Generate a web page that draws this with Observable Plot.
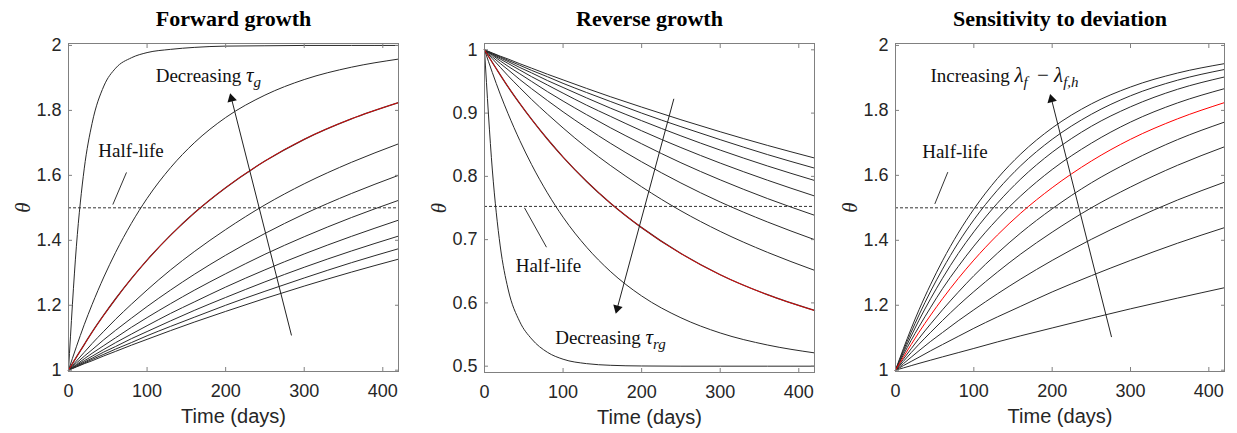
<!DOCTYPE html>
<html><head><meta charset="utf-8">
<script src="https://cdn.jsdelivr.net/npm/d3@7"></script>
<script src="https://cdn.jsdelivr.net/npm/@observablehq/plot@0.6"></script>
<style>
html,body{margin:0;padding:0;background:#fff;}
#chart{position:relative;width:1237px;height:433px;overflow:hidden;background:#fff;}
#chart svg{position:absolute;top:0;}
</style></head><body><div id="chart"></div>
<script>
// ---- data ----
const days = [0,10,20,30,45,60,80,100,130,160,200,250,300,360,420];

const xTicks = [0,100,200,300,400];
const yTicksGrowth = [1,1.2,1.4,1.6,1.8,2];
const yTicksReverse = [0.5,0.6,0.7,0.8,0.9,1];

const panelTitles = ["Forward growth","Reverse growth","Sensitivity to deviation"];
const xLabel = "Time (days)";
const yLabel = "θ";

// Forward growth: theta vs days, one row per curve (index 2 is the red one)
const forwardCurves = [
  [1,1.38,1.62,1.76,1.875,1.93,1.962,1.978,1.988,1.994,1.998,1.999,2,2,2],
  [1,1.072,1.140,1.202,1.287,1.363,1.452,1.529,1.624,1.700,1.778,1.847,1.895,1.933,1.958],
  [1,1.040,1.079,1.117,1.170,1.220,1.282,1.339,1.416,1.484,1.562,1.644,1.711,1.774,1.824],
  [1,1.028,1.055,1.082,1.120,1.157,1.203,1.247,1.309,1.365,1.433,1.509,1.574,1.640,1.697],
  [1,1.022,1.043,1.063,1.094,1.123,1.160,1.196,1.247,1.295,1.354,1.421,1.481,1.544,1.600],
  [1,1.017,1.035,1.052,1.076,1.100,1.132,1.162,1.205,1.246,1.297,1.357,1.411,1.470,1.523],
  [1,1.015,1.029,1.043,1.064,1.085,1.111,1.137,1.175,1.210,1.256,1.309,1.358,1.412,1.462],
  [1,1.013,1.025,1.037,1.056,1.073,1.097,1.119,1.152,1.184,1.224,1.272,1.317,1.367,1.413],
  [1,1.011,1.022,1.033,1.049,1.065,1.085,1.106,1.135,1.163,1.200,1.243,1.284,1.331,1.374],
  [1,1.010,1.020,1.029,1.044,1.058,1.077,1.095,1.122,1.148,1.181,1.221,1.259,1.302,1.342]
];
const forwardRed = 2;

// Reverse growth (index 7 is the red one)
const reverseCurves = [
  [1,0.995,0.990,0.9855,0.978,0.971,0.9615,0.9525,0.939,0.926,0.9095,0.8895,0.8705,0.849,0.829],
  [1,0.9945,0.989,0.9835,0.9755,0.9675,0.9575,0.947,0.9325,0.9185,0.900,0.8785,0.858,0.8345,0.813],
  [1,0.9935,0.9875,0.9815,0.972,0.9635,0.9515,0.9405,0.924,0.908,0.888,0.864,0.8415,0.8165,0.7935],
  [1,0.9925,0.9855,0.9785,0.968,0.9575,0.9445,0.9315,0.9125,0.895,0.872,0.8455,0.821,0.794,0.769],
  [1,0.9915,0.9825,0.974,0.962,0.950,0.934,0.919,0.8975,0.877,0.8515,0.8215,0.7945,0.765,0.7385],
  [1,0.989,0.9785,0.9685,0.953,0.9385,0.920,0.902,0.8765,0.8525,0.823,0.7895,0.7595,0.728,0.700],
  [1,0.986,0.9725,0.959,0.940,0.9215,0.8985,0.8765,0.8455,0.8175,0.7835,0.7455,0.713,0.680,0.6515],
  [1,0.980,0.9605,0.9415,0.915,0.890,0.859,0.8305,0.792,0.758,0.719,0.678,0.6445,0.613,0.588],
  [1,0.964,0.930,0.899,0.8565,0.8185,0.774,0.7355,0.688,0.650,0.611,0.5765,0.5525,0.5335,0.521],
  [1,0.81,0.69,0.622,0.57,0.543,0.522,0.511,0.504,0.5014,0.5003,0.5,0.5,0.5,0.5]
];
const reverseRed = 7;

// Sensitivity to deviation (index 4 is the red one)
const sensitivityCurves = [
  [1,1.066,1.128,1.186,1.265,1.337,1.422,1.496,1.590,1.666,1.746,1.820,1.872,1.915,1.944],
  [1,1.060,1.117,1.170,1.244,1.311,1.392,1.463,1.554,1.630,1.711,1.788,1.845,1.893,1.926],
  [1,1.054,1.105,1.154,1.221,1.283,1.359,1.426,1.514,1.589,1.671,1.751,1.811,1.865,1.903],
  [1,1.047,1.092,1.134,1.194,1.251,1.319,1.382,1.465,1.537,1.618,1.699,1.764,1.823,1.867],
  [1,1.040,1.079,1.117,1.170,1.220,1.282,1.339,1.416,1.484,1.562,1.644,1.711,1.774,1.824],
  [1,1.034,1.066,1.098,1.143,1.186,1.240,1.291,1.360,1.423,1.497,1.577,1.643,1.710,1.764],
  [1,1.027,1.054,1.080,1.117,1.153,1.199,1.242,1.302,1.358,1.425,1.500,1.564,1.631,1.688],
  [1,1.020,1.040,1.060,1.089,1.116,1.152,1.186,1.235,1.281,1.338,1.403,1.461,1.524,1.579],
  [1,1.014,1.027,1.040,1.060,1.079,1.104,1.129,1.164,1.197,1.241,1.291,1.338,1.391,1.439],
  [1,1.007,1.014,1.021,1.031,1.041,1.054,1.067,1.087,1.106,1.130,1.160,1.189,1.222,1.254]
];
const sensitivityRed = 4;

// half-life levels
const halfLifeLevels = [1.5, 0.7525, 1.5];

// annotation texts (data coordinates: day, theta)
const forwardLabels = [
  {x: 111, y: 1.887, text: "Decreasing τg"},
  {x: 38, y: 1.656, text: "Half-life"}
];
const reverseLabels = [
  {x: 90, y: 0.5354, text: "Decreasing τrg"},
  {x: 39.7, y: 0.6485, text: "Half-life"}
];
const sensitivityLabels = [
  {x: 44.7, y: 1.887, text: "Increasing λf − λf,h"},
  {x: 34.1, y: 1.654, text: "Half-life"}
];
// leader lines from "Half-life" to the dashed line
const forwardLeader = {x1: 56.4, y1: 1.510, x2: 73.8, y2: 1.609};
const reverseLeader = {x1: 50.9, y1: 0.7503, x2: 78.9, y2: 0.688};
const sensitivityLeader = {x1: 50.2, y1: 1.512, x2: 66.8, y2: 1.610};
// trend arrows (tail -> head)
const forwardArrow = {x1: 283.8, y1: 1.107, x2: 206.2, y2: 1.848};
const reverseArrow = {x1: 241, y1: 0.9226, x2: 167.6, y2: 0.5853};
const sensitivityArrow = {x1: 275.8, y1: 1.102, x2: 197.9, y2: 1.846};

// rich text for labels with subscripts: [text, kind] (i = italic, s = subscript, m = math operator)
const richLabels = {
  "Decreasing τg": [["Decreasing "],["τ","i"],["g","s"]],
  "Decreasing τrg": [["Decreasing "],["τ","i"],["rg","s"]],
  "Increasing λf − λf,h": [["Increasing "],["λ","i"],["f","s"],[" − ","m"],["λ","i"],["f,h","s"]]
};

function richify(svg) {
  svg.querySelectorAll("text").forEach(el => {
    const parts = richLabels[el.textContent];
    if (!parts) return;
    el.textContent = "";
    let sub = false;
    for (const [s, kind] of parts) {
      const ts = document.createElementNS("http://www.w3.org/2000/svg", "tspan");
      ts.textContent = s;
      if (kind === "i" || kind === "s") ts.setAttribute("font-style", "italic");
      if (kind === "i") ts.setAttribute("font-size", "21");
      if (kind === "m") { ts.setAttribute("font-size", "21"); ts.setAttribute("dx", "4"); }
      if (kind === "s") {
        ts.setAttribute("font-size", "15");
        if (!sub) ts.setAttribute("dy", "5");
        sub = true;
      } else if (sub) {
        ts.setAttribute("dy", "-5");
        sub = false;
      }
      el.appendChild(ts);
    }
  });
}

function panel(o) {
  const rows = [];
  o.curves.forEach((vals, k) => vals.forEach((v, i) => rows.push({t: days[i], theta: v, k})));
  const black = rows.filter(d => d.k !== o.red);
  const red = rows.filter(d => d.k === o.red);
  const tf = d => String(d);
  // arrow-head orientation in screen space (from scale sizes)
  const fw = o.width - o.ml - o.mr, fh = 433 - 43 - o.mb;
  const kx = fw / 420, ky = fh / (o.yDomain[1] - o.yDomain[0]);
  const a = o.arrow;
  const sx = (a.x2 - a.x1) * kx, sy = -(a.y2 - a.y1) * ky;
  const len = Math.hypot(sx, sy);
  const back = 4 / len;
  const head = [{x: a.x2 - (a.x2 - a.x1) * back, y: a.y2 - (a.y2 - a.y1) * back}];
  const rot = Math.atan2(sx, -sy) * 180 / Math.PI;
  const svg = Plot.plot({
    width: o.width,
    height: 433,
    marginLeft: o.ml, marginRight: o.mr, marginTop: 43, marginBottom: o.mb,
    style: {fontFamily: "Liberation Sans", fontSize: "18px", background: "#fff", overflow: "visible"},
    x: {domain: [0, 420]},
    y: {domain: o.yDomain},
    marks: [
      Plot.ruleY([o.half], {stroke: "#333", strokeWidth: 1, strokeDasharray: "3,2"}),
      Plot.line(black, {x: "t", y: "theta", z: "k", stroke: "#2a2a2a", strokeWidth: 1, curve: "monotone-x"}),
      o.underlay ? Plot.line(red, {x: "t", y: "theta", stroke: "#2a2a2a", strokeWidth: 1.3, curve: "monotone-x"}) : null,
      Plot.line(red, {x: "t", y: "theta", stroke: "#ff0000", strokeWidth: o.underlay ? 0.8 : 1, curve: "monotone-x"}),
      Plot.link([o.leader], {x1: "x1", y1: "y1", x2: "x2", y2: "y2", stroke: "#333", strokeWidth: 1}),
      Plot.link([o.arrow], {x1: "x1", y1: "y1", x2: "x2", y2: "y2", stroke: "#222", strokeWidth: 1}),
      Plot.dot(head, {x: "x", y: "y", symbol: "triangle", r: 3.6, fill: "#111", stroke: "none", rotate: rot}),
      Plot.text(o.labels, {x: "x", y: "y", text: "text", textAnchor: "start", lineAnchor: "bottom",
        fontFamily: "Liberation Serif", fontSize: 19, fill: "#111"}),
      Plot.frame({stroke: "#808080"}),
      Plot.axisX({anchor: "bottom", ticks: xTicks, tickSize: -4, stroke: "#808080", fill: "none", label: null}),
      Plot.axisX({anchor: "top", ticks: xTicks, tickSize: -4, stroke: "#808080", fill: "none", label: null}),
      Plot.axisY({anchor: "left", ticks: o.yTicks, tickSize: -4, stroke: "#808080", fill: "none", label: null}),
      Plot.axisY({anchor: "right", ticks: o.yTicks, tickSize: -4, stroke: "#808080", fill: "none", label: null}),
      Plot.axisX({anchor: "bottom", ticks: xTicks, tickSize: 0, tickPadding: 13, fill: "#262626", label: null,
        fontSize: 18, tickFormat: tf}),
      Plot.axisY({anchor: "left", ticks: o.yTicks, tickSize: 0, tickPadding: 7, fill: "#262626", label: null,
        fontSize: 18, tickFormat: tf}),
      Plot.text([o.title], {frameAnchor: "top", dy: -18, lineAnchor: "bottom", textAnchor: "middle", text: d => d,
        fontFamily: "Liberation Serif", fontWeight: "bold", fontSize: 22, fill: "#000"}),
      Plot.text([xLabel], {frameAnchor: "bottom", dy: 51, lineAnchor: "bottom", textAnchor: "middle", text: d => d,
        fontFamily: "Liberation Sans", fontSize: 20, fill: "#262626"}),
      Plot.text([yLabel], {frameAnchor: "left", dx: -45, rotate: -90, textAnchor: "middle", lineAnchor: "middle", text: d => d,
        fontFamily: "Liberation Serif", fontStyle: "italic", fontSize: 21, fill: "#262626"})
    ]
  });
  svg.style.left = o.left + "px";
  richify(svg);
  document.getElementById("chart").appendChild(svg);
}

panel({title: panelTitles[0], curves: forwardCurves, red: forwardRed, underlay: true,
  yDomain: [0.996, 2.006], yTicks: yTicksGrowth, half: halfLifeLevels[0],
  labels: forwardLabels, leader: forwardLeader, arrow: forwardArrow,
  left: 0, width: 412, ml: 68, mr: 14, mb: 62});
panel({title: panelTitles[1], curves: reverseCurves, red: reverseRed, underlay: true,
  yDomain: [0.490, 1.010], yTicks: yTicksReverse, half: halfLifeLevels[1],
  labels: reverseLabels, leader: reverseLeader, arrow: reverseArrow,
  left: 412, width: 412, ml: 72, mr: 10, mb: 61});
panel({title: panelTitles[2], curves: sensitivityCurves, red: sensitivityRed, underlay: false,
  yDomain: [0.996, 2.006], yTicks: yTicksGrowth, half: halfLifeLevels[2],
  labels: sensitivityLabels, leader: sensitivityLeader, arrow: sensitivityArrow,
  left: 824, width: 413, ml: 71, mr: 13, mb: 62});
</script>
</body></html>
